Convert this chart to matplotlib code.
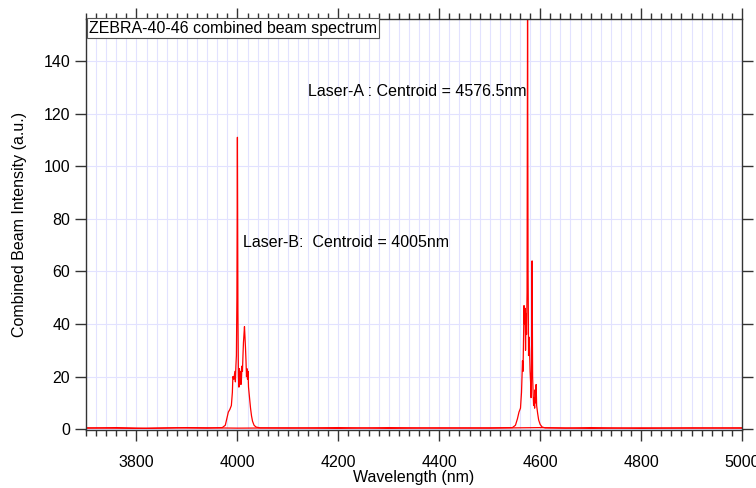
## ZEBRA-40-46 combined beam spectrum ##

import matplotlib
matplotlib.use("Agg")
from matplotlib import pyplot as plt
from matplotlib.ticker import MultipleLocator

plt.rcParams['font.family'] = ['Liberation Sans', 'DejaVu Sans']

# laser B spectrum (wavelength in nm, intensity in a.u.)
wl_b = [3700, 3760, 3820, 3880, 3940, 3970, 3976, 3979, 3982, 3985, 3988, 3990,
        3991, 3993, 3995, 3996, 3997, 3998, 3999, 4000, 4001, 4002, 4003, 4004,
        4005, 4006, 4007, 4008, 4009, 4010, 4011, 4012, 4013, 4014, 4015, 4016,
        4017, 4018, 4019, 4020, 4021, 4022, 4024, 4026, 4028, 4030, 4033, 4037,
        4045, 4100, 4200, 4300, 4400, 4500, 4600, 4700, 4800, 4900, 5000]
int_b = [0.4, 0.6, 0.3, 0.5, 0.4, 0.6, 1.5, 4.0, 6.5, 7.5, 9.0, 14.0,
         20.0, 19.0, 22.0, 18.0, 24.0, 28.0, 50.0, 111.0, 45.0, 20.0, 16.0, 23.0,
         18.0, 22.0, 17.0, 19.0, 24.0, 22.0, 28.0, 33.0, 36.0, 39.0, 35.0, 31.0,
         26.0, 20.0, 23.0, 19.0, 22.0, 16.0, 12.0, 8.0, 5.0, 3.0, 1.5, 0.8,
         0.5, 0.4, 0.6, 0.3, 0.5, 0.4, 0.6, 0.3, 0.5, 0.4, 0.5]

# laser A spectrum
wl_a = [3700, 3800, 3900, 4000, 4100, 4200, 4300, 4400, 4500, 4545, 4551, 4555,
        4558, 4561, 4563, 4565, 4566, 4567, 4568, 4569, 4570, 4571, 4572, 4573,
        4574, 4575, 4576, 4577, 4578, 4579, 4580, 4581, 4582, 4583, 4584, 4585,
        4586, 4587, 4588, 4589, 4590, 4591, 4592, 4593, 4595, 4597, 4600, 4604,
        4610, 4650, 4700, 4800, 4900, 5000]
int_a = [0.5, 0.3, 0.6, 0.4, 0.5, 0.3, 0.6, 0.4, 0.5, 0.6, 1.5, 4.0,
         6.5, 8.0, 14.0, 26.0, 22.0, 34.0, 47.0, 40.0, 46.0, 30.0, 44.0, 36.0,
         52.0, 160.0, 60.0, 28.0, 35.0, 30.0, 22.0, 18.0, 12.0, 25.0, 64.0, 20.0,
         14.0, 9.0, 12.0, 8.0, 15.0, 10.0, 17.0, 9.0, 6.0, 3.5, 1.8, 0.8,
         0.5, 0.4, 0.6, 0.3, 0.5, 0.4]

fig = plt.figure(figsize=(7.56, 4.88), dpi=100)
ax = fig.add_axes([0.1138, 0.1189, 0.8677, 0.8422])

ax.plot(wl_b, int_b, color="#ff0000", linewidth=0.9)
ax.plot(wl_a, int_a, color="#ff0000", linewidth=0.9)

ax.set_xlim(3700, 5000)
ax.set_ylim(-0.3, 156)

# ticks: major labelled, minor on x only, all pointing outward
ax.xaxis.set_major_locator(MultipleLocator(200))
ax.xaxis.set_minor_locator(MultipleLocator(20))
ax.yaxis.set_major_locator(MultipleLocator(20))
ax.tick_params(axis="both", which="major", direction="out", length=8, width=1,
               color="#333333", labelsize=11.5, top=True, right=True)
ax.tick_params(axis="x", which="minor", direction="out", length=4, width=1,
               color="#333333", top=True)
ax.tick_params(axis="x", which="both", pad=10)

# light lavender grid
ax.grid(True, axis="x", which="both", color="#e2e2ff", linewidth=0.8)
ax.grid(True, axis="y", which="major", color="#e2e2ff", linewidth=0.8)
ax.set_axisbelow(True)

for spine in ax.spines.values():
    spine.set_linewidth(1)
    spine.set_color("#333333")

ax.set_xlabel("Wavelength (nm)", fontsize=11.5, labelpad=0)
ax.set_ylabel("Combined Beam Intensity (a.u.)", fontsize=11.5, labelpad=12)

# annotations
ax.text(3706, 152.5, "ZEBRA-40-46 combined beam spectrum", fontsize=11.5,
        va="center", ha="left",
        bbox=dict(boxstyle="square,pad=0.15", facecolor="white",
                  edgecolor="#555555", linewidth=0.8))
ax.text(4139, 128.5, "Laser-A : Centroid = 4576.5nm", fontsize=11.5, va="center")
ax.text(4011, 71, "Laser-B:  Centroid = 4005nm", fontsize=11.5, va="center")

fig.savefig("out.png", dpi=100)
